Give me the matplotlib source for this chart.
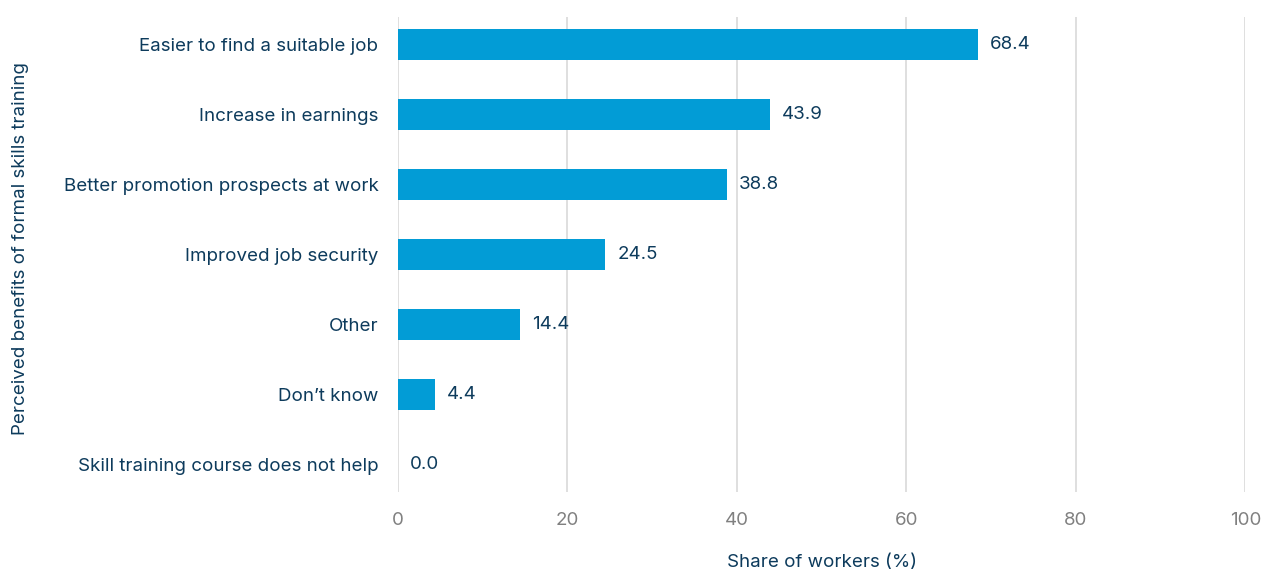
import matplotlib
matplotlib.use('Agg')
import matplotlib.pyplot as plt

plt.rcParams['font.family'] = ['Inter', 'DejaVu Sans']

benefits = ['Easier to find a suitable job',
            'Increase in earnings',
            'Better promotion prospects at work',
            'Improved job security',
            'Other',
            'Don\u2019t know',
            'Skill training course does not help']
shares = [68.4, 43.9, 38.8, 24.5, 14.4, 4.4, 0.0]
xticks = [0, 20, 40, 60, 80, 100]

text_col = '#0d3b5c'
bar_col = '#029cd6'

fig = plt.figure(figsize=(12.63, 5.72), dpi=100)
ax = fig.add_axes([0.315, 0.139, 0.671, 0.832])

pos = list(range(len(benefits)))
ax.barh(pos, shares, height=0.44, color=bar_col, zorder=3)
for p, v in zip(pos, shares):
    ax.text(v + 1.4, p, f'{v:.1f}', va='center', ha='left',
            fontsize=13.5, color=text_col)

ax.set_ylim(len(benefits) - 0.6, -0.4)
ax.set_xlim(0, 100)
ax.set_yticks(pos)
ax.set_yticklabels(benefits, fontsize=13.5, color=text_col)
ax.set_xticks(xticks)
ax.set_xticklabels([str(t) for t in xticks], fontsize=13.5, color='#808080')
ax.tick_params(axis='both', length=0)
ax.tick_params(axis='y', pad=14)
ax.tick_params(axis='x', pad=14)
ax.xaxis.grid(True, color='#d9d9d9', linewidth=1.2, zorder=0)
for s in ax.spines.values():
    s.set_visible(False)

ax.set_xlabel('Share of workers (%)', fontsize=13.5, color=text_col, labelpad=18)
fig.text(0.016, 0.566, 'Perceived benefits of formal skills training', rotation=90,
         ha='center', va='center', fontsize=13.5, color=text_col)

fig.savefig('out.png', dpi=100)
